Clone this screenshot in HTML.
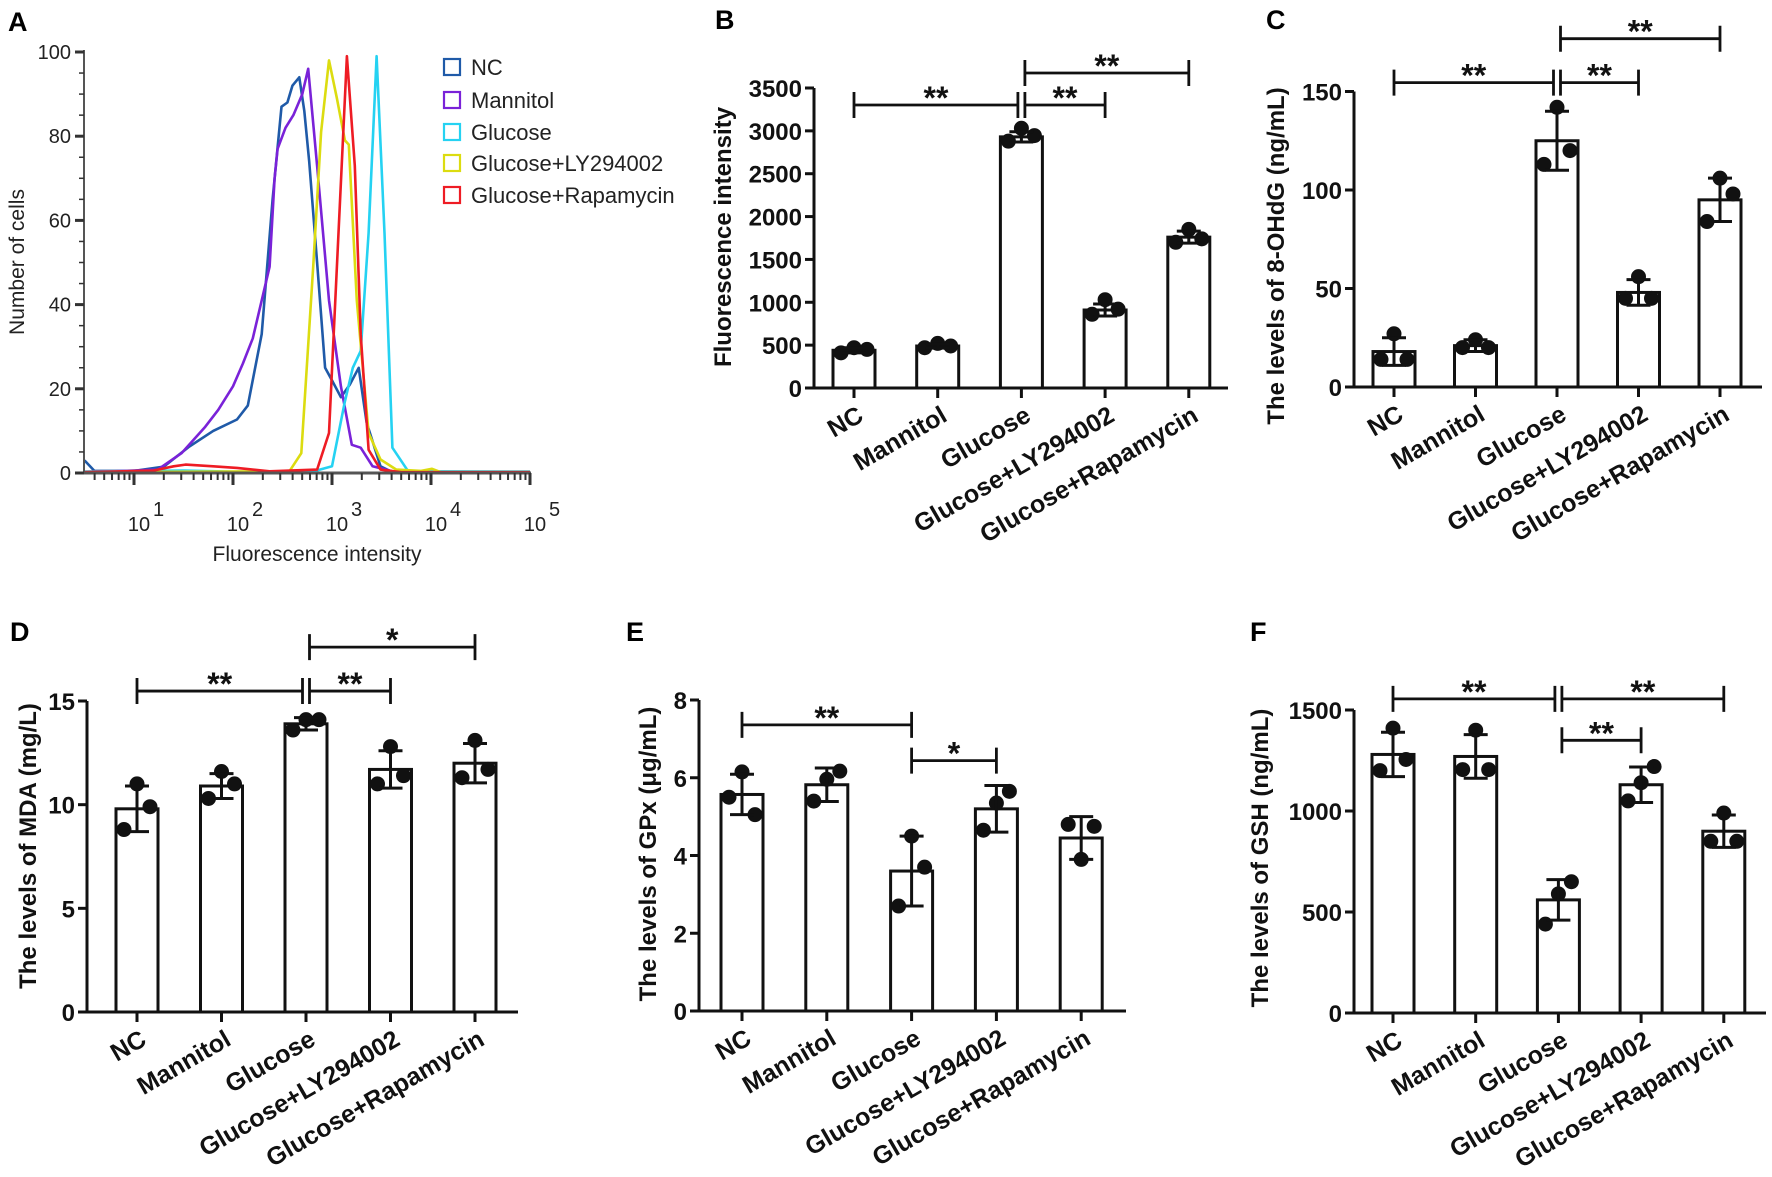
<!DOCTYPE html>
<html><head><meta charset="utf-8"><style>
html,body{margin:0;padding:0;background:#fff}
svg{display:block}
text{font-family:"Liberation Sans",Arial,sans-serif}
</style></head><body>
<svg id="fig" width="1772" height="1177" viewBox="0 0 1772 1177" xmlns="http://www.w3.org/2000/svg"></svg>
<script>
// ---------- Panel A data (log10 intensity, count) ----------
const aSeriesNames = ["NC","Mannitol","Glucose","Glucose+LY294002","Glucose+Rapamycin"];
const aColors = ["#1f5aa8","#7a22d8","#25d2f2","#dcdc10","#ee1c24"];
const aNC = [[0.5,3],[0.6,0.5],[1.0,0.5],[1.3,1.5],[1.56,6.3],[1.8,10],[2.04,12.7],[2.15,16],[2.29,33],[2.4,65],[2.49,87],[2.55,88],[2.6,92],[2.67,94],[2.72,86],[2.77,74],[2.85,50],[2.93,25],[3.0,22],[3.09,18],[3.18,21],[3.27,25],[3.35,12],[3.49,1.6],[3.6,0.3],[5.0,0.3]];
const aMannitol = [[0.5,0.3],[0.8,0.4],[1.24,0.8],[1.48,4.7],[1.72,11],[1.85,15],[2.0,20.6],[2.1,26],[2.2,32],[2.3,42],[2.37,49],[2.42,70],[2.45,77],[2.53,82],[2.61,85],[2.7,90],[2.76,96],[2.85,73],[2.97,41],[3.09,20.6],[3.2,6.7],[3.29,6],[3.41,1.6],[3.65,0.2],[5.0,0.2]];
const aGlucose = [[0.5,0.3],[1.5,0.6],[2.0,0.3],[2.8,0.3],[3.0,1.6],[3.13,17],[3.21,25],[3.29,29],[3.37,57],[3.45,99],[3.53,57],[3.61,6],[3.77,0.4],[5.0,0.3]];
const aLY = [[0.5,0.2],[2.57,0.4],[2.69,4.7],[2.81,49],[2.89,81],[2.97,98],[3.05,89],[3.13,79],[3.17,78],[3.25,41],[3.37,9.5],[3.49,3.2],[3.65,0.8],[3.9,0.5],[4.01,1.0],[4.1,0.2],[5.0,0.2]];
const aRap = [[0.5,0.2],[1.2,0.6],[1.4,1.6],[1.52,2],[1.8,1.6],[2.04,1.2],[2.37,0.4],[2.85,0.8],[2.97,9.5],[3.05,49],[3.15,99],[3.23,73],[3.29,33],[3.37,5.5],[3.49,0.8],[3.7,0.2],[5.0,0.2]];
const aYTicks = [0,20,40,60,80,100];
const aXTicks = [1,2,3,4,5];

// ---------- Bar panels data ----------
const groups = ["NC","Mannitol","Glucose","Glucose+LY294002","Glucose+Rapamycin"];
const bMeans = [440,490,2930,910,1760];
const bSD = [30,25,60,70,70];
const bPoints = [[410,470,450],[470,520,490],[2880,3030,2945],[860,1030,920],[1700,1850,1740]];
const bTicks = [0,500,1000,1500,2000,2500,3000,3500];
const bSig = [[0,2,3302,"**"],[2,3,3302,"**"],[2,4,3675,"**"]];

const cMeans = [18,21,125,48,95];
const cSD = [7,3,15,6.5,11];
const cPoints = [[14,27,14],[20,24,20],[113,142,120],[45,56,45],[84,106,98]];
const cTicks = [0,50,100,150];
const cSig = [[0,2,154.5,"**"],[2,3,154.5,"**"],[2,4,176.8,"**"]];

const dMeans = [9.8,10.9,13.9,11.7,12.0];
const dSD = [1.1,0.6,0.3,0.9,0.95];
const dPoints = [[8.8,11.0,9.9],[10.3,11.6,11.0],[13.6,14.1,14.1],[11.0,12.8,11.4],[11.3,13.1,11.7]];
const dTicks = [0,5,10,15];
const dSig = [[0,2,15.48,"**"],[2,3,15.48,"**"],[2,4,17.6,"*"]];

const eMeans = [5.57,5.82,3.6,5.2,4.45];
const eSD = [0.52,0.43,0.9,0.6,0.55];
const ePoints = [[5.5,6.15,5.05],[5.4,5.96,6.17],[2.7,4.5,3.7],[4.65,5.35,5.65],[4.8,3.9,4.75]];
const eTicks = [0,2,4,6,8];
const eSig = [[0,2,7.36,"**"],[2,3,6.44,"*"]];

const fMeans = [1280,1270,560,1130,900];
const fSD = [110,108,100,88,80];
const fPoints = [[1200,1410,1255],[1205,1400,1205],[440,590,650],[1050,1140,1220],[850,990,850]];
const fTicks = [0,500,1000,1500];
const fSig = [[0,2,1555,"**"],[2,4,1555,"**"],[2,3,1350,"**"]];

const NS="http://www.w3.org/2000/svg";
const svg=document.getElementById('fig');
function mk(tag,attrs,parent){const e=document.createElementNS(NS,tag);for(const k in attrs)e.setAttribute(k,attrs[k]);(parent||svg).appendChild(e);return e;}
function txt(s,attrs,parent){const e=mk('text',attrs,parent);e.textContent=s;return e;}

// ---------- Panel A ----------
(function(){
  const g=mk('g',{});
  
  
  const X0=84,X1=531,Y0=473;
  const xs=l=>134+(l-1)*99;
  const ys=c=>Y0-c*4.21;
  const lab=txt('A',{x:8,y:31,'font-size':27,'font-weight':'bold'},g);
  
  
  const series=[aNC,aMannitol,aGlucose,aLY,aRap];
  series.forEach((s,i)=>{
    const p=mk('polyline',{points:s.map(d=>xs(d[0]).toFixed(1)+','+ys(d[1]).toFixed(1)).join(' '),fill:'none',stroke:aColors[i],'stroke-width':2.6,'stroke-linejoin':'round'},g);
    
    
  });
  mk('line',{x1:X0,y1:Y0,x2:X1,y2:Y0,stroke:'#555','stroke-width':3},g);
  mk('line',{x1:X0,y1:Y0,x2:X0,y2:ys(100)-2,stroke:'#555','stroke-width':2},g);
  for(let v=0;v<=100;v+=5){const maj=v%20===0;mk('line',{x1:X0-(maj?9:5),y1:ys(v),x2:X0,y2:ys(v),stroke:'#333','stroke-width':maj?3:1.5},g);}
  aYTicks.forEach(v=>{const t=txt(String(v),{x:X0-13,y:ys(v)+7,'font-size':20,'text-anchor':'end',fill:'#222'},g);});
  for(let d=0;d<5;d++){for(let m=1;m<=9;m++){const l=d+Math.log10(m);if(l<0.5||l>5)continue;const maj=m===1;mk('line',{x1:xs(l),y1:Y0,x2:xs(l),y2:Y0+(maj?12:7),stroke:'#333','stroke-width':maj?3:2},g);}}
  mk('line',{x1:xs(5),y1:Y0,x2:xs(5),y2:Y0+12,stroke:'#333','stroke-width':3},g);
  aXTicks.forEach(v=>{const t=txt('10',{x:xs(v)+5,y:531,'font-size':20,'text-anchor':'middle',fill:'#222'},g);
    txt(String(v),{x:xs(v)+19,y:516,'font-size':20,fill:'#222'},g);});
  const xt=txt('Fluorescence intensity',{x:317,y:561,'font-size':21,'text-anchor':'middle',fill:'#222'},g);
  
  const yt=txt('Number of cells',{x:0,y:0,'font-size':21,'text-anchor':'middle',fill:'#222',transform:'translate(24,262) rotate(-90)'},g);
  
  const ly=[67,100,132,163,195];
  aSeriesNames.forEach((n,i)=>{
    const r=mk('rect',{x:444,y:ly[i]-8,width:16,height:16,fill:'#fff',stroke:aColors[i],'stroke-width':2.2},g);
    
    const t=txt(n,{x:471,y:ly[i]+8,'font-size':22,fill:'#222'},g);
    
  });
})();

// ---------- bar panel builder ----------
function barPanel(o){
  const g=mk('g',{});
  
  
  const ys=v=>o.y0-(v/o.max)*(o.y0-o.yTop);
  const cx=i=>o.c0+i*o.step;
  const L=txt(o.letter,{x:o.lx,y:o.ly,'font-size':27,'font-weight':'bold'},g);
  
  o.means.forEach((m,i)=>{
    const r=mk('rect',{x:cx(i)-21,y:ys(m),width:42,height:o.y0-ys(m),fill:'#fff',stroke:'#111','stroke-width':3},g);
    
    
  });
  const dx=[-13,0,13];
  o.points.forEach((pts,i)=>pts.forEach((v,j)=>{
    const c=mk('circle',{cx:cx(i)+dx[j],cy:ys(v),r:7.5,fill:'#111'},g);
    
  }));
  o.means.forEach((m,i)=>{
    const hi=ys(m+o.sd[i]),lo=ys(m-o.sd[i]),x=cx(i);
    const e=mk('path',{d:`M${x},${hi}V${lo}M${x-12},${hi}H${x+12}M${x-12},${lo}H${x+12}`,stroke:'#111','stroke-width':3,fill:'none'},g);
    
  });
  mk('line',{x1:o.ax,y1:o.y0,x2:o.axEnd,y2:o.y0,stroke:'#111','stroke-width':3},g);
  mk('line',{x1:o.ax,y1:o.y0+1.5,x2:o.ax,y2:o.yTop,stroke:'#111','stroke-width':3},g);
  o.ticks.forEach(v=>{
    mk('line',{x1:o.ax-9,y1:ys(v),x2:o.ax,y2:ys(v),stroke:'#111','stroke-width':3},g);
    const t=txt(String(v),{x:o.ax-12,y:ys(v)+9,'font-size':24,'font-weight':'bold','text-anchor':'end',fill:'#111'},g);
    
  });
  groups.forEach((n,i)=>{
    mk('line',{x1:cx(i),y1:o.y0,x2:cx(i),y2:o.y0+10,stroke:'#111','stroke-width':3},g);
    const t=txt(n,{x:0,y:0,'font-size':25,'font-weight':'bold','text-anchor':'end',fill:'#111',transform:`translate(${cx(i)+11},${o.y0+32}) rotate(-30)`},g);
    
  });
  const yt=txt(o.title,{x:0,y:0,'font-size':24,'font-weight':'bold','text-anchor':'middle',fill:'#111',transform:`translate(${o.tx},${o.ty}) rotate(-90)`},g);
  
  o.sig.forEach(s=>{
    const y=ys(s[2]);
    let x1=cx(s[0]),x2=cx(s[1]);
    if(o.split){ if(s[1]===2) x2-=3.5; if(s[0]===2) x1+=3.5; }
    const p=mk('path',{d:`M${x1},${y}H${x2}M${x1},${y-13}V${y+13}M${x2},${y-13}V${y+13}`,stroke:'#111','stroke-width':2.8,fill:'none'},g);
    
    const t=txt(s[3],{x:(x1+x2)/2,y:y+4,'font-size':32,'font-weight':'bold','text-anchor':'middle',fill:'#111'},g);
    
  });
}

barPanel({name:'panel-b',letter:'B',lx:715,ly:29,means:bMeans,sd:bSD,points:bPoints,ticks:bTicks,sig:bSig,max:3500,
  y0:388,yTop:88,ax:814,axEnd:1228,c0:854,step:83.7,title:'Fluorescence intensity',tx:731,ty:237,split:true});
barPanel({name:'panel-c',letter:'C',lx:1266,ly:29,means:cMeans,sd:cSD,points:cPoints,ticks:cTicks,sig:cSig,max:150,
  y0:387,yTop:91.5,ax:1354,axEnd:1762,c0:1394,step:81.5,title:'The levels of 8-OHdG (ng/mL)',tx:1284,ty:256,split:true});
barPanel({name:'panel-d',letter:'D',lx:10,ly:641,means:dMeans,sd:dSD,points:dPoints,ticks:dTicks,sig:dSig,max:15,
  y0:1012,yTop:701,ax:87,axEnd:518,c0:137,step:84.5,title:'The levels of MDA (mg/L)',tx:36,ty:846,split:true});
barPanel({name:'panel-e',letter:'E',lx:626,ly:641,means:eMeans,sd:eSD,points:ePoints,ticks:eTicks,sig:eSig,max:8,
  y0:1011,yTop:700,ax:699,axEnd:1126,c0:742,step:84.8,title:'The levels of GPx (μg/mL)',tx:656,ty:854,split:false});
barPanel({name:'panel-f',letter:'F',lx:1250,ly:641,means:fMeans,sd:fSD,points:fPoints,ticks:fTicks,sig:fSig,max:1500,
  y0:1013,yTop:710,ax:1354,axEnd:1766,c0:1393,step:82.7,title:'The levels of GSH (ng/mL)',tx:1268,ty:858,split:true});
</script>
</body></html>
